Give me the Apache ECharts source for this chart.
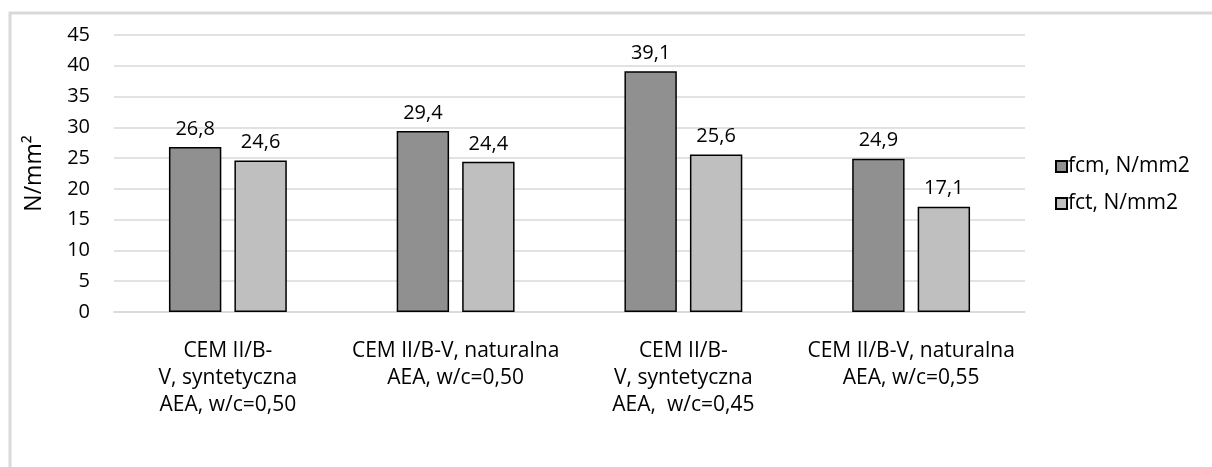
<!DOCTYPE html>
<html><head><meta charset="utf-8">
<script src="https://cdn.jsdelivr.net/npm/echarts@6/dist/echarts.min.js"></script>
<style>html,body{margin:0;padding:0;background:#fff}#c{width:1212px;height:467px}</style>
</head><body><div id="c"></div>
<script>
const categories = [
  "CEM II/B-\nV, syntetyczna\nAEA, w/c=0,50",
  "CEM II/B-V, naturalna\nAEA, w/c=0,50",
  "CEM II/B-\nV, syntetyczna\nAEA,  w/c=0,45",
  "CEM II/B-V, naturalna\nAEA, w/c=0,55"
];
const fcm = [26.8, 29.4, 39.1, 24.9];
const fct = [24.6, 24.4, 25.6, 17.1];
const seriesNames = ["fcm, N/mm2", "fct, N/mm2"];
const FONT = "'Open Sans', sans-serif";
const chart = echarts.init(document.getElementById('c'), null, {renderer:'canvas'});
const lbl = {show:true, position:'top', distance:8, color:'#000', fontSize:20, fontFamily:FONT,
  formatter: p => p.value.toFixed(1).replace('.', ',')};
chart.setOption({
  animation:false,
  backgroundColor:'#fff',
  graphic:[{type:'rect', shape:{x:10, y:13, width:1220, height:470}, style:{fill:'none', stroke:'#d9d9d9', lineWidth:3}}],
  grid:{left:114, right:187, top:35, bottom:155},
  legend:{orient:'vertical', left:1050, top:151, itemGap:16, itemWidth:11, itemHeight:11,
    icon:'rect', textStyle:{fontSize:21, fontFamily:FONT, color:'#000', padding:[0,0,0,-4]},
    data:seriesNames},
  xAxis:{type:'category', data:categories,
    axisLine:{show:true, lineStyle:{color:'#d9d9d9', width:1.5}}, axisTick:{show:false},
    axisLabel:{interval:0, color:'#000', fontSize:21, fontFamily:FONT, lineHeight:27, margin:26}},
  yAxis:{type:'value', min:0, max:45, interval:5,
    name:'N/mm²', nameLocation:'middle', nameGap:68, nameRotate:90,
    nameTextStyle:{fontSize:23, fontFamily:FONT, color:'#000'},
    axisLine:{show:false}, axisTick:{show:false},
    axisLabel:{color:'#000', fontSize:20, fontFamily:FONT, margin:24},
    splitLine:{lineStyle:{color:'#d9d9d9', width:1.5}}},
  series:[
    {name:seriesNames[0], type:'bar', data:fcm, barWidth:'23%', barGap:'25%',
     itemStyle:{color:'#909090', borderColor:'#000', borderWidth:1.5}, label:lbl},
    {name:seriesNames[1], type:'bar', data:fct, barWidth:'23%', barGap:'25%',
     itemStyle:{color:'#bfbfbf', borderColor:'#000', borderWidth:1.5}, label:lbl}
  ]
});
</script></body></html>
